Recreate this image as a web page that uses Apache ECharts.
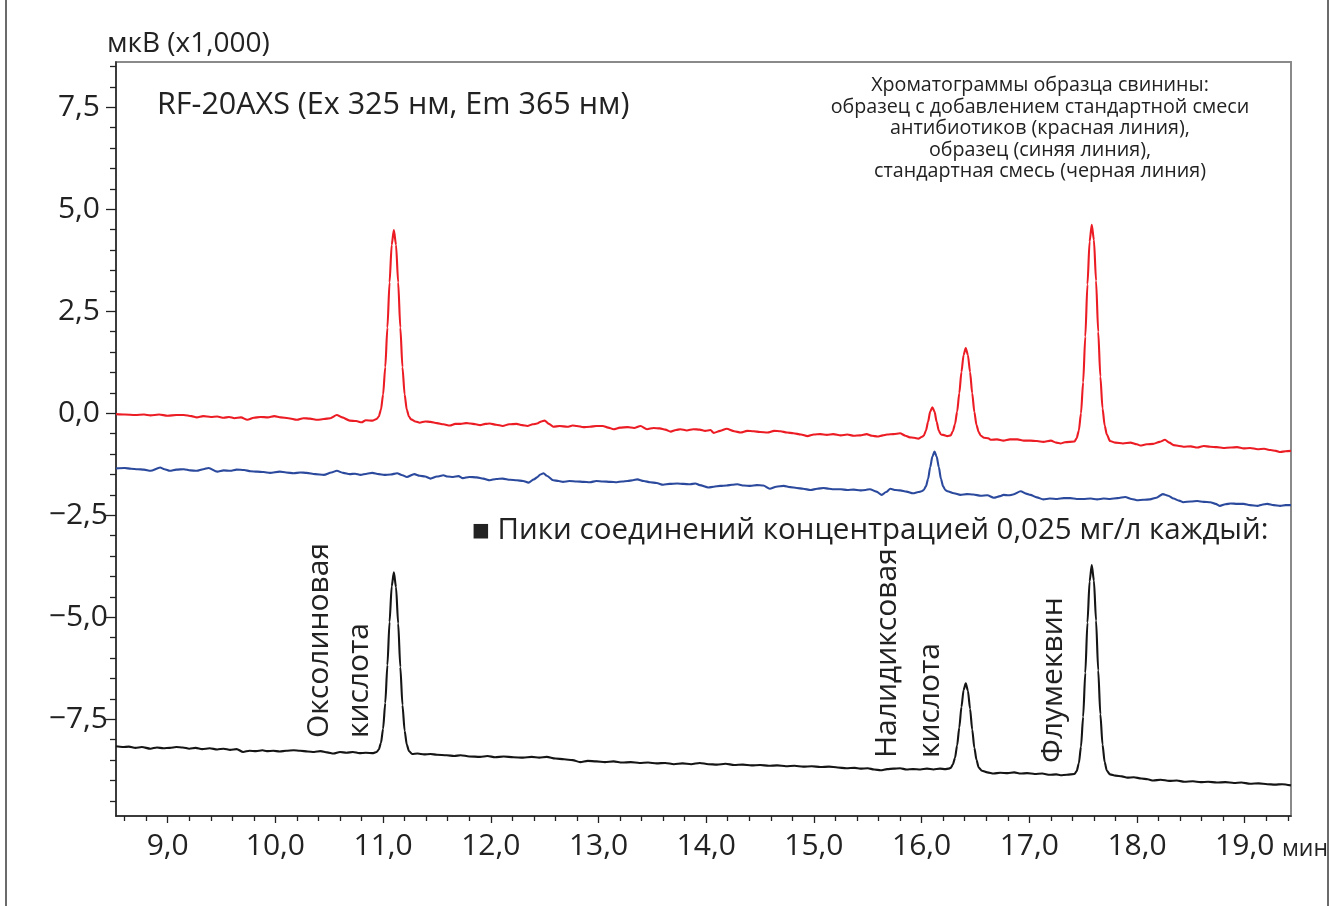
<!DOCTYPE html>
<html>
<head>
<meta charset="utf-8">
<title>RF-20AXS chromatograms</title>
<script src="https://cdn.jsdelivr.net/npm/echarts@6/dist/echarts.min.js"></script>
<style>
  html, body { margin: 0; padding: 0; background: #fff; }
  #chart { width: 1336px; height: 906px; }
</style>
</head>
<body>
<div id="chart"></div>
<script>
// retention time (min), signal (мкВ x1000)
const redTrace = [
  [8.52,-0.02],[8.60,-0.03],[8.70,-0.04],[8.78,-0.03],[8.84,-0.05],[8.92,-0.03],[9.00,-0.06],[9.08,-0.04],
  [9.15,-0.04],[9.22,-0.07],[9.27,-0.10],[9.33,-0.07],[9.40,-0.09],[9.46,-0.08],[9.52,-0.11],[9.57,-0.09],
  [9.62,-0.12],[9.68,-0.10],[9.74,-0.16],[9.80,-0.11],[9.86,-0.09],[9.93,-0.10],[9.99,-0.07],[10.05,-0.10],
  [10.12,-0.12],[10.20,-0.16],[10.26,-0.12],[10.32,-0.13],[10.39,-0.16],[10.45,-0.14],[10.51,-0.12],[10.57,-0.04],
  [10.62,-0.10],[10.69,-0.18],[10.75,-0.19],[10.80,-0.22],[10.84,-0.17],[10.90,-0.18],
  [10.94,-0.14],[10.96,-0.08],[10.98,0.09],[11.00,0.46],[11.02,1.13],[11.04,2.10],[11.06,3.21],[11.08,4.13],
  [11.10,4.49],[11.12,4.13],[11.14,3.21],[11.16,2.10],[11.18,1.13],[11.20,0.46],[11.22,0.09],[11.24,-0.08],[11.26,-0.15],
  [11.30,-0.20],[11.34,-0.23],[11.39,-0.20],[11.44,-0.21],[11.50,-0.24],[11.56,-0.27],[11.62,-0.30],[11.67,-0.26],
  [11.72,-0.26],[11.77,-0.24],[11.81,-0.25],[11.86,-0.27],[11.90,-0.29],[11.95,-0.26],[11.99,-0.25],[12.05,-0.28],
  [12.11,-0.31],[12.17,-0.27],[12.24,-0.26],[12.29,-0.29],[12.34,-0.31],[12.39,-0.27],[12.43,-0.25],[12.47,-0.20],
  [12.50,-0.18],[12.54,-0.26],[12.58,-0.33],[12.64,-0.31],[12.71,-0.33],[12.76,-0.30],[12.80,-0.31],[12.86,-0.34],
  [12.92,-0.33],[12.98,-0.31],[13.04,-0.31],[13.09,-0.35],[13.14,-0.39],[13.20,-0.35],[13.27,-0.34],[13.33,-0.36],
  [13.39,-0.31],[13.45,-0.39],[13.51,-0.36],[13.57,-0.37],[13.62,-0.40],[13.67,-0.45],[13.72,-0.41],[13.76,-0.39],
  [13.82,-0.42],[13.88,-0.39],[13.94,-0.40],[13.99,-0.43],[14.04,-0.41],[14.07,-0.48],[14.13,-0.43],[14.19,-0.38],
  [14.26,-0.44],[14.32,-0.47],[14.38,-0.43],[14.44,-0.44],[14.50,-0.46],[14.57,-0.47],[14.63,-0.43],[14.69,-0.44],
  [14.75,-0.47],[14.81,-0.49],[14.88,-0.52],[14.94,-0.56],[15.00,-0.52],[15.06,-0.51],[15.12,-0.53],[15.18,-0.51],
  [15.25,-0.54],[15.31,-0.52],[15.37,-0.55],[15.43,-0.54],[15.49,-0.51],[15.54,-0.55],[15.59,-0.57],[15.64,-0.54],
  [15.68,-0.52],[15.74,-0.51],[15.80,-0.49],[15.85,-0.55],[15.89,-0.59],[15.93,-0.60],[15.97,-0.62],
  [16.00,-0.58],[16.02,-0.55],[16.04,-0.43],[16.06,-0.21],[16.08,0.04],[16.10,0.15],[16.12,0.04],[16.14,-0.21],
  [16.16,-0.43],[16.18,-0.52],[16.20,-0.53],[16.24,-0.56],[16.27,-0.54],[16.29,-0.44],[16.31,-0.27],[16.33,0.04],
  [16.35,0.49],[16.37,1.01],[16.39,1.43],[16.41,1.60],[16.43,1.43],[16.45,1.01],[16.47,0.49],[16.49,0.03],
  [16.51,-0.29],[16.53,-0.46],[16.55,-0.55],[16.58,-0.60],[16.62,-0.61],[16.64,-0.65],[16.70,-0.64],[16.76,-0.67],
  [16.82,-0.64],[16.89,-0.64],[16.95,-0.67],[17.01,-0.67],[17.07,-0.68],[17.13,-0.70],[17.20,-0.67],[17.25,-0.72],
  [17.29,-0.74],[17.33,-0.71],
  [17.42,-0.69],[17.44,-0.61],[17.46,-0.42],[17.48,0.00],[17.50,0.76],[17.52,1.88],[17.54,3.16],[17.56,4.21],
  [17.58,4.62],[17.60,4.25],[17.62,3.25],[17.64,2.00],[17.66,0.90],[17.68,0.12],[17.70,-0.30],[17.72,-0.52],
  [17.75,-0.68],[17.80,-0.72],[17.87,-0.74],[17.94,-0.72],[18.00,-0.76],[18.03,-0.79],[18.09,-0.76],[18.15,-0.75],
  [18.21,-0.70],[18.26,-0.65],[18.30,-0.72],[18.34,-0.78],[18.39,-0.80],[18.43,-0.82],[18.50,-0.81],[18.56,-0.84],
  [18.62,-0.80],[18.68,-0.82],[18.74,-0.83],[18.80,-0.85],[18.87,-0.84],[18.93,-0.83],[18.99,-0.86],[19.05,-0.85],
  [19.12,-0.88],[19.18,-0.87],[19.24,-0.90],[19.29,-0.92],[19.33,-0.95],[19.38,-0.93],[19.43,-0.92]
];

const blueTrace = [
  [8.52,-1.35],[8.60,-1.34],[8.66,-1.36],[8.72,-1.37],[8.78,-1.38],[8.84,-1.41],[8.93,-1.33],[8.97,-1.37],
  [9.02,-1.41],[9.08,-1.38],[9.15,-1.37],[9.21,-1.40],[9.27,-1.41],[9.33,-1.37],[9.38,-1.34],[9.46,-1.43],
  [9.52,-1.40],[9.58,-1.41],[9.64,-1.38],[9.71,-1.39],[9.77,-1.42],[9.83,-1.43],[9.89,-1.44],[9.95,-1.46],
  [10.04,-1.43],[10.10,-1.45],[10.17,-1.47],[10.23,-1.45],[10.29,-1.46],[10.37,-1.49],[10.45,-1.51],[10.52,-1.45],
  [10.57,-1.41],[10.63,-1.46],[10.69,-1.49],[10.74,-1.48],[10.79,-1.51],[10.85,-1.48],[10.90,-1.46],[10.96,-1.49],
  [11.01,-1.51],[11.07,-1.50],[11.13,-1.47],[11.18,-1.52],[11.22,-1.56],[11.29,-1.49],[11.34,-1.53],[11.39,-1.55],
  [11.44,-1.60],[11.50,-1.55],[11.56,-1.52],[11.60,-1.55],[11.65,-1.56],[11.70,-1.54],[11.74,-1.59],[11.80,-1.56],
  [11.87,-1.57],[11.93,-1.60],[11.99,-1.64],[12.05,-1.61],[12.11,-1.60],[12.18,-1.63],[12.24,-1.64],[12.30,-1.66],
  [12.35,-1.70],[12.40,-1.62],[12.43,-1.57],[12.46,-1.50],[12.49,-1.47],[12.52,-1.53],[12.58,-1.64],[12.63,-1.66],
  [12.67,-1.68],[12.73,-1.66],[12.80,-1.67],[12.86,-1.68],[12.92,-1.69],[12.98,-1.66],[13.04,-1.67],[13.11,-1.68],
  [13.17,-1.69],[13.22,-1.67],[13.27,-1.66],[13.32,-1.64],[13.36,-1.62],[13.42,-1.66],[13.48,-1.69],[13.54,-1.71],
  [13.60,-1.75],[13.66,-1.73],[13.73,-1.72],[13.79,-1.73],[13.85,-1.74],[13.90,-1.72],[13.94,-1.76],[14.02,-1.82],
  [14.07,-1.80],[14.13,-1.78],[14.19,-1.77],[14.24,-1.75],[14.29,-1.74],[14.35,-1.77],[14.41,-1.78],[14.47,-1.76],
  [14.53,-1.77],[14.59,-1.85],[14.65,-1.80],[14.72,-1.78],[14.78,-1.81],[14.84,-1.83],[14.90,-1.85],[14.97,-1.88],
  [15.03,-1.85],[15.09,-1.83],[15.14,-1.85],[15.18,-1.86],[15.25,-1.86],[15.31,-1.88],[15.37,-1.87],[15.43,-1.89],
  [15.48,-1.88],[15.52,-1.86],[15.58,-1.92],[15.63,-2.00],[15.67,-1.93],[15.71,-1.85],[15.76,-1.88],[15.80,-1.89],
  [15.86,-1.92],[15.92,-1.96],[15.97,-1.93],
  [16.00,-1.91],[16.02,-1.88],[16.04,-1.79],[16.06,-1.61],[16.08,-1.32],[16.10,-1.06],[16.12,-0.94],[16.14,-1.06],
  [16.16,-1.32],[16.18,-1.61],[16.20,-1.79],[16.22,-1.88],[16.24,-1.91],[16.30,-1.96],[16.36,-2.00],[16.42,-1.98],
  [16.48,-1.99],[16.55,-2.02],[16.61,-2.01],[16.67,-2.07],[16.73,-2.03],[16.76,-2.00],[16.81,-2.01],[16.85,-1.99],
  [16.92,-1.91],[16.97,-1.97],[17.01,-2.00],[17.07,-2.06],[17.13,-2.11],[17.19,-2.09],[17.26,-2.10],[17.32,-2.08],
  [17.38,-2.08],[17.44,-2.10],[17.50,-2.10],[17.57,-2.09],[17.63,-2.11],[17.69,-2.09],[17.75,-2.10],[17.82,-2.08],
  [17.89,-2.05],[17.95,-2.10],[18.00,-2.13],[18.06,-2.12],[18.12,-2.11],[18.18,-2.07],[18.24,-1.98],[18.29,-2.02],
  [18.34,-2.09],[18.39,-2.14],[18.43,-2.18],[18.50,-2.16],[18.56,-2.15],[18.62,-2.17],[18.68,-2.18],[18.73,-2.22],
  [18.77,-2.27],[18.82,-2.23],[18.87,-2.21],[18.93,-2.22],[18.99,-2.22],[19.05,-2.25],[19.12,-2.27],[19.16,-2.24],
  [19.21,-2.22],[19.27,-2.25],[19.33,-2.27],[19.38,-2.25],[19.43,-2.25]
];

const blackTrace = [
  [8.52,-8.16],[8.58,-8.18],[8.64,-8.17],[8.70,-8.20],[8.76,-8.18],[8.84,-8.22],[8.90,-8.19],[8.96,-8.21],
  [9.02,-8.20],[9.08,-8.18],[9.14,-8.19],[9.20,-8.22],[9.26,-8.20],[9.32,-8.23],[9.39,-8.21],[9.46,-8.24],
  [9.52,-8.22],[9.58,-8.25],[9.64,-8.23],[9.70,-8.30],[9.76,-8.27],[9.82,-8.28],[9.88,-8.26],[9.92,-8.28],
  [9.98,-8.27],[10.04,-8.29],[10.10,-8.27],[10.17,-8.26],[10.23,-8.27],[10.30,-8.29],[10.36,-8.30],[10.42,-8.28],
  [10.48,-8.31],[10.54,-8.34],[10.60,-8.30],[10.66,-8.32],[10.72,-8.30],[10.78,-8.33],[10.84,-8.32],[10.91,-8.33],
  [10.94,-8.30],[10.96,-8.24],[10.98,-8.08],[11.00,-7.73],[11.02,-7.10],[11.04,-6.17],[11.06,-5.11],[11.08,-4.24],
  [11.10,-3.90],[11.12,-4.26],[11.14,-5.15],[11.16,-6.22],[11.18,-7.15],[11.20,-7.78],[11.22,-8.12],[11.24,-8.28],
  [11.27,-8.35],[11.32,-8.34],[11.38,-8.36],[11.44,-8.35],[11.50,-8.37],[11.59,-8.38],[11.66,-8.40],[11.72,-8.38],
  [11.80,-8.41],[11.90,-8.42],[11.97,-8.40],[12.04,-8.43],[12.12,-8.41],[12.21,-8.43],[12.30,-8.44],[12.38,-8.42],
  [12.45,-8.44],[12.52,-8.42],[12.60,-8.46],[12.68,-8.48],[12.76,-8.50],[12.83,-8.55],[12.90,-8.52],[12.98,-8.53],
  [13.06,-8.55],[13.14,-8.53],[13.22,-8.56],[13.30,-8.55],[13.38,-8.57],[13.46,-8.56],[13.54,-8.58],[13.62,-8.57],
  [13.70,-8.60],[13.78,-8.58],[13.86,-8.60],[13.94,-8.57],[14.02,-8.60],[14.10,-8.61],[14.18,-8.59],[14.26,-8.62],
  [14.34,-8.61],[14.42,-8.63],[14.50,-8.62],[14.58,-8.64],[14.66,-8.63],[14.74,-8.65],[14.82,-8.64],[14.90,-8.66],
  [14.98,-8.65],[15.06,-8.67],[15.14,-8.66],[15.22,-8.68],[15.30,-8.70],[15.38,-8.69],[15.43,-8.71],[15.50,-8.70],
  [15.56,-8.73],[15.62,-8.75],[15.68,-8.72],[15.74,-8.71],[15.80,-8.70],[15.86,-8.73],[15.92,-8.72],[15.99,-8.73],
  [16.05,-8.71],[16.11,-8.73],[16.17,-8.71],[16.22,-8.72],
  [16.25,-8.71],[16.27,-8.69],[16.29,-8.61],[16.31,-8.45],[16.33,-8.14],[16.35,-7.70],[16.37,-7.20],[16.39,-6.78],
  [16.41,-6.62],[16.43,-6.80],[16.45,-7.24],[16.47,-7.75],[16.49,-8.20],[16.51,-8.50],[16.53,-8.68],[16.56,-8.76],
  [16.61,-8.80],[16.67,-8.83],[16.73,-8.81],[16.80,-8.82],[16.86,-8.80],[16.92,-8.83],[16.98,-8.82],[17.05,-8.84],
  [17.12,-8.83],[17.19,-8.86],[17.25,-8.85],[17.29,-8.87],[17.35,-8.86],
  [17.42,-8.84],[17.44,-8.77],[17.46,-8.58],[17.48,-8.17],[17.50,-7.44],[17.52,-6.36],[17.54,-5.13],[17.56,-4.12],
  [17.58,-3.72],[17.60,-4.10],[17.62,-5.08],[17.64,-6.30],[17.66,-7.38],[17.68,-8.12],[17.70,-8.55],[17.72,-8.76],
  [17.75,-8.85],[17.80,-8.88],[17.86,-8.90],[17.91,-8.93],[17.97,-8.92],[18.04,-8.95],[18.10,-8.97],[18.15,-9.00],
  [18.22,-8.98],[18.30,-9.01],[18.37,-9.00],[18.44,-9.03],[18.52,-9.02],[18.59,-9.04],[18.66,-9.03],[18.74,-9.05],
  [18.82,-9.04],[18.90,-9.06],[18.97,-9.05],[19.05,-9.08],[19.13,-9.07],[19.21,-9.09],[19.28,-9.10],[19.35,-9.09],
  [19.43,-9.12]
];

// axis ticks and labels
const xLabels = [9, 10, 11, 12, 13, 14, 15, 16, 17, 18, 19];
const yLabels = [-7.5, -5, -2.5, 0, 2.5, 5, 7.5];
const xMinor = [];
for (let v = 86; v <= 194; v += 2) { if (v % 10 !== 0) xMinor.push(v / 10); }
const yMinor = [];
for (let v = -95; v <= 85; v += 5) { if (v % 25 !== 0) yMinor.push(v / 10); }

const X_MIN = 8.52, X_MAX = 19.43, Y_MIN = -9.87, Y_MAX = 8.61;
const FONT = '"Open Sans", "Noto Sans", sans-serif';
const INK = '#222';

function fmt(v) {
  return v.toFixed(1).replace('.', ',').replace('-', '\u2212');
}

const chart = echarts.init(document.getElementById('chart'), null, { renderer: 'canvas' });

const tickStyle = { color: INK, width: 1.3 };

const option = {
  animation: false,
  backgroundColor: '#fff',
  grid: {
    left: 116, right: 45, top: 62, bottom: 90,
    show: true, borderColor: '#8a8a8a', borderWidth: 2, backgroundColor: 'transparent'
  },
  xAxis: [
    {
      type: 'value', min: X_MIN, max: X_MAX, position: 'bottom',
      axisLine: { show: true, onZero: false, lineStyle: { color: INK, width: 1.5 } },
      axisTick: { show: true, inside: false, length: 7, customValues: xLabels, lineStyle: tickStyle },
      axisLabel: {
        customValues: xLabels, margin: 15, formatter: fmt,
        fontFamily: FONT, fontSize: 30, color: INK
      },
      splitLine: { show: false },
      name: 'мин', nameLocation: 'end', nameGap: -9,
      nameTextStyle: { fontFamily: FONT, fontSize: 23, color: INK, align: 'left', verticalAlign: 'top', padding: [22, 0, 0, 0] }
    },
    {
      type: 'value', min: X_MIN, max: X_MAX, position: 'bottom', offset: 0,
      axisLine: { show: false, onZero: false },
      axisTick: { show: true, length: 5, customValues: xMinor, lineStyle: tickStyle },
      axisLabel: { show: false },
      splitLine: { show: false }
    }
  ],
  yAxis: [
    {
      type: 'value', min: Y_MIN, max: Y_MAX, position: 'left',
      axisLine: { show: true, onZero: false, lineStyle: { color: INK, width: 1.5 } },
      axisTick: { show: true, length: 10, customValues: yLabels, lineStyle: tickStyle },
      axisLabel: {
        customValues: yLabels, margin: 8,
        formatter: v => (v >= 0 ? '{p|' : '{n|') + fmt(v) + '}',
        rich: {
          p: { fontFamily: FONT, fontSize: 30, color: INK, padding: [0, 8, 0, 0] },
          n: { fontFamily: FONT, fontSize: 30, color: INK }
        }
      },
      splitLine: { show: false }
    },
    {
      type: 'value', min: Y_MIN, max: Y_MAX, position: 'left', offset: 0,
      axisLine: { show: false, onZero: false },
      axisTick: { show: true, length: 6, customValues: yMinor, lineStyle: tickStyle },
      axisLabel: { show: false },
      splitLine: { show: false }
    }
  ],
  series: [
    {
      name: 'стандартная смесь', type: 'line', data: blackTrace, showSymbol: false, silent: true,
      smooth: 0.25, smoothMonotone: 'x',
      lineStyle: { color: '#151515', width: 2.1, join: 'round' }
    },
    {
      name: 'образец', type: 'line', data: blueTrace, showSymbol: false, silent: true,
      smooth: 0.25, smoothMonotone: 'x',
      lineStyle: { color: '#2c4a9d', width: 2.1, join: 'round' }
    },
    {
      name: 'образец + стандарт', type: 'line', data: redTrace, showSymbol: false, silent: true,
      smooth: 0.25, smoothMonotone: 'x',
      lineStyle: { color: '#ec1c24', width: 2.1, join: 'round' }
    }
  ],
  graphic: [
    // outer frame sides
    { type: 'line', shape: { x1: 6, y1: 0, x2: 6, y2: 906 }, style: { stroke: '#3a3a3a', lineWidth: 1.5 } },
    { type: 'line', shape: { x1: 1328, y1: 0, x2: 1328, y2: 906 }, style: { stroke: '#3a3a3a', lineWidth: 1.5 } },
    { type: 'text', x: 107, y: 44,
      style: { text: 'мкВ (x1,000)', font: '28px ' + FONT, fill: INK, verticalAlign: 'middle' } },
    { type: 'text', x: 157, y: 105,
      style: { text: 'RF-20AXS (Ex 325 нм, Em 365 нм)', font: '30.5px ' + FONT, fill: INK, verticalAlign: 'middle' } },
    { type: 'text', x: 1040, y: 75,
      style: {
        text: 'Хроматограммы образца свинины:\nобразец с добавлением стандартной смеси\nантибиотиков (красная линия),\nобразец (синяя линия),\nстандартная смесь (черная линия)',
        font: '19.7px ' + FONT, fill: INK, align: 'center', verticalAlign: 'top', lineHeight: 21.5
      } },
    { type: 'text', x: 472, y: 531,
      style: {
        text: '{sq|■} Пики соединений концентрацией 0,025 мг/л каждый:',
        font: '29.5px ' + FONT, fill: INK, verticalAlign: 'middle',
        rich: { sq: { fontSize: 19, fontFamily: '"DejaVu Sans"', fill: INK } }
      } },
    { type: 'text', x: 299, y: 738, rotation: Math.PI / 2,
      style: { text: 'Оксолиновая\nкислота', font: '30px ' + FONT, fill: INK, align: 'left', verticalAlign: 'top', lineHeight: 40 } },
    { type: 'text', x: 866, y: 758, rotation: Math.PI / 2,
      style: { text: 'Налидиксовая\nкислота', font: '30px ' + FONT, fill: INK, align: 'left', verticalAlign: 'top', lineHeight: 43 } },
    { type: 'text', x: 1033, y: 763, rotation: Math.PI / 2,
      style: { text: 'Флумеквин', font: '30px ' + FONT, fill: INK, align: 'left', verticalAlign: 'top', lineHeight: 40 } }
  ]
};

chart.setOption(option);
</script>
</body>
</html>
